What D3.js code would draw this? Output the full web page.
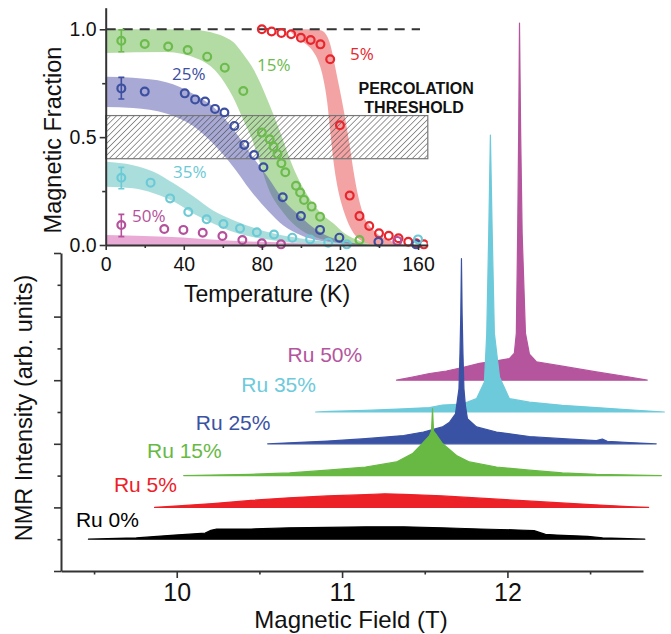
<!DOCTYPE html>
<html>
<head>
<meta charset="utf-8">
<script src="https://cdn.jsdelivr.net/npm/d3@7"></script>
<style>
body { margin: 0; background: #fff; }
text { font-family: "Liberation Sans", Arial, sans-serif; }
</style>
</head>
<body>
<svg id="chart" width="671" height="634"></svg>
<script>
// ---------- main plot: NMR spectra ----------
const fieldTicks = [10, 11, 12];
const fieldMinorTicks = [9.5, 10.5, 11.5, 12.5];
const intMajorTicks = [0, 2, 4, 6, 8, 10];
const intMinorTicks = [1, 3, 5, 7, 9];

const spectraLabels = ["Ru 0%", "Ru 5%", "Ru 15%", "Ru 25%", "Ru 35%", "Ru 50%"];
const spectraOffsets = [1, 2, 3, 4, 5, 6];

const fieldRu0 = [9.466, 9.755, 9.987, 10.172, 10.207, 10.241, 10.45, 10.68, 10.912, 11.143, 11.374, 11.605, 11.837, 12.068, 12.161, 12.23, 12.299, 12.485, 12.576, 12.831];
const intRu0   = [0, 0.04, 0.13, 0.19, 0.28, 0.32, 0.32, 0.36, 0.37, 0.39, 0.39, 0.36, 0.32, 0.29, 0.27, 0.15, 0.13, 0.09, 0.04, 0];

const fieldRu5 = [9.866, 9.987, 10.218, 10.45, 10.68, 10.912, 11.143, 11.258, 11.374, 11.605, 11.837, 12.068, 12.299, 12.53, 12.761, 12.854];
const intRu5   = [0, 0.04, 0.12, 0.22, 0.30, 0.36, 0.40, 0.43, 0.41, 0.36, 0.29, 0.22, 0.15, 0.08, 0.02, 0];

const fieldRu15 = [10.042, 10.447, 10.683, 10.912, 11.142, 11.329, 11.426, 11.486, 11.529, 11.541, 11.547, 11.553, 11.565, 11.607, 11.692, 11.770, 11.934, 12.133, 12.332, 12.538, 12.931];
const intRu15   = [0, 0.04, 0.085, 0.17, 0.27, 0.43, 0.69, 1.01, 1.26, 1.4, 2.11, 1.4, 1.32, 1.01, 0.63, 0.43, 0.27, 0.17, 0.085, 0.04, 0];

const fieldRu25 = [10.550, 10.912, 11.142, 11.372, 11.492, 11.607, 11.650, 11.686, 11.707, 11.713, 11.718, 11.722, 11.726, 11.731, 11.737, 11.746, 11.758, 11.813, 11.934, 12.133, 12.332, 12.538, 12.574, 12.604, 12.737, 12.900];
const intRu25   = [0, 0.085, 0.16, 0.26, 0.37, 0.53, 0.68, 0.94, 1.73, 2.83, 4.09, 5.82, 4.09, 2.83, 1.73, 1.19, 0.79, 0.53, 0.37, 0.23, 0.16, 0.10, 0.15, 0.08, 0.04, 0];

const fieldRu35 = [10.840, 10.924, 11.142, 11.372, 11.529, 11.607, 11.728, 11.813, 11.861, 11.875, 11.887, 11.897, 11.908, 11.921, 11.952, 12.012, 12.133, 12.332, 12.538, 12.737, 12.949];
const intRu35   = [0, 0.02, 0.05, 0.10, 0.14, 0.22, 0.25, 0.42, 0.94, 2.48, 5.63, 8.71, 5.63, 2.48, 1.10, 0.42, 0.31, 0.21, 0.14, 0.07, 0];

const fieldRu50 = [11.329, 11.426, 11.529, 11.631, 11.728, 11.831, 11.934, 12.012, 12.042, 12.054, 12.062, 12.068, 12.073, 12.080, 12.089, 12.109, 12.133, 12.175, 12.332, 12.538, 12.737, 12.846];
const intRu50   = [0, 0.10, 0.21, 0.29, 0.40, 0.53, 0.61, 0.68, 0.85, 1.48, 4.62, 7.77, 11.23, 7.77, 4.62, 1.48, 0.82, 0.58, 0.44, 0.26, 0.10, 0];

// ---------- inset: magnetic fraction vs temperature ----------
const tempTicks = [0, 40, 80, 120, 160];
const tempMinorTicks = [20, 60, 100, 140];
const fracTicks = [0, 0.5, 1.0];
const fracMinorTicks = [0.25, 0.75];

const insetLabels = ["5%", "15%", "25%", "35%", "50%"];

const tempRu5 = [80, 85, 90, 95, 100, 105, 110, 115, 120, 125, 130, 135, 140, 145, 150, 155, 159, 163];
const fracRu5 = [1.0, 0.99, 0.983, 0.977, 0.961, 0.95, 0.93, 0.861, 0.555, 0.229, 0.134, 0.088, 0.054, 0.043, 0.031, 0.015, 0.008, 0.003];

const tempRu15 = [8, 20, 32, 42, 52, 61, 70.5, 80, 84, 86, 88, 90, 92, 97.5, 99.6, 101.6, 105.5, 109.8, 130];
const fracRu15 = [0.947, 0.932, 0.92, 0.904, 0.873, 0.822, 0.714, 0.521, 0.49, 0.456, 0.422, 0.379, 0.337, 0.275, 0.243, 0.209, 0.178, 0.131, 0.023];

const tempRu25 = [8, 20, 40.5, 45.8, 50.9, 56, 60.8, 65.9, 71, 76, 80.8, 90.7, 100, 109.8, 119.7, 139.7, 159];
const fracRu25 = [0.726, 0.711, 0.703, 0.675, 0.665, 0.631, 0.614, 0.552, 0.464, 0.417, 0.36, 0.221, 0.134, 0.07, 0.034, 0.015, 0.003];

const tempRu35 = [8, 23, 33, 42.3, 51.7, 60.3, 68.8, 77.4, 86.2, 95.6, 104.7, 114, 123.5, 160];
const fracRu35 = [0.312, 0.289, 0.216, 0.153, 0.119, 0.097, 0.077, 0.059, 0.049, 0.034, 0.026, 0.011, 0.003, 0.026];

const tempRu50 = [8, 30, 39.8, 49.7, 59.8, 70, 80, 89.8, 149.4];
const fracRu50 = [0.093, 0.074, 0.07, 0.057, 0.042, 0.023, 0.008, 0.003, 0.019];

// error bars at the lowest temperature: [T, low, high]
const errRu15 = [8, 0.896, 0.997];
const errRu25 = [8, 0.677, 0.777];
const errRu35 = [8, 0.261, 0.36];
const errRu50 = [8, 0.039, 0.142];

// shaded bands: upper and lower edges as [T, fraction]
const bandRu5Hi = [[95, 1.0], [105, 1.0], [110, 0.995], [112.5, 0.98], [115, 0.93], [117, 0.85], [119, 0.76], [121, 0.67], [123, 0.57], [125, 0.46], [127, 0.34], [129.5, 0.22], [132, 0.14], [136, 0.08], [141, 0.04], [147, 0.015], [155, 0]];
const bandRu5Lo = [[95, 0.985], [98, 0.96], [102, 0.935], [106, 0.90], [109, 0.85], [111.5, 0.77], [113.5, 0.66], [115, 0.53], [116.8, 0.38], [118.5, 0.28], [120.5, 0.2], [123, 0.13], [126, 0.07], [130, 0.025], [135, 0.005], [140, 0]];
const bandRu15Hi = [[0, 1.0], [30, 1.0], [48, 0.995], [56, 0.98], [62, 0.96], [65.5, 0.94], [70, 0.89], [76, 0.81], [83, 0.67], [89.5, 0.52], [96, 0.36], [104.8, 0.21], [110, 0.15], [116.7, 0.10], [123, 0.05], [130, 0.02], [137, 0]];
const bandRu15Lo = [[0, 0.89], [31, 0.895], [48, 0.86], [57, 0.80], [65, 0.69], [71, 0.57], [75, 0.49], [79, 0.38], [83, 0.27], [91, 0.15], [100, 0.07], [108, 0.035], [117, 0.015], [126, 0.005], [135, 0]];
const bandRu25Hi = [[0, 0.78], [14, 0.775], [31, 0.755], [45, 0.70], [57, 0.625], [65.5, 0.535], [74, 0.425], [83, 0.315], [91, 0.21], [100, 0.13], [108, 0.07], [117, 0.03], [126, 0.01], [135, 0]];
const bandRu25Lo = [[0, 0.64], [14, 0.635], [31, 0.61], [45, 0.55], [55, 0.47], [65.5, 0.36], [74, 0.255], [83, 0.16], [91, 0.09], [100, 0.045], [117, 0.01], [126, 0]];
const bandRu35Hi = [[0, 0.386], [14, 0.37], [24.5, 0.34], [35, 0.285], [45, 0.225], [55, 0.16], [65.5, 0.115], [83, 0.06], [100, 0.03], [117, 0.01], [126, 0]];
const bandRu35Lo = [[0, 0.27], [14, 0.263], [24.5, 0.24], [35, 0.20], [45, 0.145], [55, 0.10], [65.5, 0.06], [83, 0.025], [100, 0.008], [117, 0]];
const bandRu50Hi = [[0, 0.046], [31, 0.038], [65, 0.02], [100, 0.008], [130, 0]];
const bandRu50Lo = [[0, 0], [130, 0]];

const percolation = [0.4, 0.6];

// ---------- colours / layout ----------
const specColors = ["#000000", "#ec2027", "#67b944", "#3a52a4", "#6dcadb", "#b5559e"];
const insetColors = ["#e8262d", "#6cbb4c", "#3c4fa0", "#6ccad6", "#b5519c"];
const bandColors = ["rgb(232,72,72)", "rgb(104,184,74)", "rgb(82,86,172)", "rgb(86,190,188)", "rgb(214,86,174)"];

const svg = d3.select("#chart");

const x = d3.scaleLinear().domain([9.3, 12.82]).range([61, 643]);
const y = d3.scaleLinear().domain([0, 10]).range([571, 253]);

const xIn = d3.scaleLinear().domain([0, 165]).range([105.7, 427.8]);
const yIn = d3.scaleLinear().domain([0, 1.1]).range([245, 7.7]);

function styleAxis(g, size) {
    g.select(".domain").attr("stroke", "#333").attr("stroke-width", 2);
    g.selectAll(".tick line").attr("stroke", "#333").attr("stroke-width", 1.6);
    g.selectAll(".tick text").attr("fill", "#111").style("font-size", size + "px")
        .style("font-family", '"Liberation Sans", Arial, sans-serif');
}

// ---- spectra (top ones first so the lower ones sit in front)
const spectra = [
    { field: fieldRu0, value: intRu0 },
    { field: fieldRu5, value: intRu5 },
    { field: fieldRu15, value: intRu15 },
    { field: fieldRu25, value: intRu25 },
    { field: fieldRu35, value: intRu35 },
    { field: fieldRu50, value: intRu50 }
];

const gSpec = svg.append("g");
for (let k = spectra.length - 1; k >= 0; k--) {
    const s = spectra[k];
    const off = spectraOffsets[k];
    const area = d3.area()
        .x((d, i) => x(s.field[i]))
        .y0(y(off))
        .y1((d, i) => y(off + s.value[i]));
    gSpec.append("path")
        .attr("d", area(s.field))
        .attr("fill", specColors[k])
        .attr("stroke", specColors[k])
        .attr("stroke-width", 1.2)
        .attr("stroke-linejoin", "round");
}

// labels of spectra (position in data coords: field, intensity)
const specLabelPos = [[9.39, 1.38], [9.62, 2.48], [9.82, 3.55], [10.115, 4.43], [10.39, 5.63], [10.67, 6.57]];
spectraLabels.forEach((t, k) => {
    svg.append("text")
        .attr("x", x(specLabelPos[k][0]))
        .attr("y", y(specLabelPos[k][1]))
        .attr("fill", specColors[k])
        .style("font-size", "21px")
        .text(t);
});

// ---- main axes
const gx = svg.append("g").attr("transform", "translate(0,571)")
    .call(d3.axisBottom(x).tickValues(fieldTicks).tickSize(7).tickSizeOuter(0).tickPadding(5).tickFormat(d3.format("d")));
styleAxis(gx, 25);
const gxm = svg.append("g").attr("transform", "translate(0,571)")
    .call(d3.axisBottom(x).tickValues(fieldMinorTicks).tickSize(3.5).tickFormat(""));
gxm.select(".domain").remove();
styleAxis(gxm, 25);

const gy = svg.append("g").attr("transform", "translate(61,0)")
    .call(d3.axisLeft(y).tickValues(intMajorTicks).tickSize(7).tickSizeOuter(0).tickFormat(""));
styleAxis(gy, 25);
const gym = svg.append("g").attr("transform", "translate(61,0)")
    .call(d3.axisLeft(y).tickValues(intMinorTicks).tickSize(3.5).tickFormat(""));
gym.select(".domain").remove();
styleAxis(gym, 25);

svg.append("text")
    .attr("x", 351).attr("y", 628)
    .attr("text-anchor", "middle")
    .style("font-size", "24px")
    .attr("fill", "#111")
    .text("Magnetic Field (T)");

svg.append("text")
    .attr("transform", "translate(32,408) rotate(-90)")
    .attr("text-anchor", "middle")
    .style("font-size", "23.5px")
    .attr("fill", "#111")
    .text("NMR Intensity (arb. units)");

// ---------- inset ----------
const gIn = svg.append("g");

const edge = d3.line().x(d => xIn(d[0])).y(d => yIn(d[1])).curve(d3.curveMonotoneX);
function bandPath(hi, lo) {
    const top = edge(hi);
    const bottom = edge(lo.slice().reverse());
    return top + "L" + bottom.slice(1) + "Z";
}
const bands = [
    [bandRu5Hi, bandRu5Lo], [bandRu15Hi, bandRu15Lo], [bandRu25Hi, bandRu25Lo],
    [bandRu35Hi, bandRu35Lo], [bandRu50Hi, bandRu50Lo]
];
bands.forEach((b, k) => {
    gIn.append("path")
        .attr("d", bandPath(b[0], b[1]))
        .attr("fill", bandColors[k])
        .attr("fill-opacity", 0.5);
});

// hatched percolation threshold
const defs = svg.append("defs");
defs.append("pattern")
    .attr("id", "hatch")
    .attr("patternUnits", "userSpaceOnUse")
    .attr("width", 4.2).attr("height", 4.2)
    .attr("patternTransform", "rotate(45)")
    .append("line")
    .attr("x1", 0).attr("y1", 0).attr("x2", 0).attr("y2", 4.2)
    .attr("stroke", "#444").attr("stroke-width", 1.1);

gIn.append("rect")
    .attr("x", xIn(0)).attr("y", yIn(percolation[1]))
    .attr("width", xIn(165) - xIn(0))
    .attr("height", yIn(percolation[0]) - yIn(percolation[1]))
    .attr("fill", "url(#hatch)")
    .attr("stroke", "#777").attr("stroke-width", 1.2);

gIn.append("line")
    .attr("x1", xIn(0)).attr("x2", xIn(161))
    .attr("y1", yIn(1)).attr("y2", yIn(1))
    .attr("stroke", "#333").attr("stroke-width", 2)
    .attr("stroke-dasharray", "10,7");

defs.append("clipPath").attr("id", "insetClip")
    .append("rect").attr("x", 0).attr("y", 0).attr("width", xIn(165)).attr("height", 260);

const insetSeries = [
    { t: tempRu5, f: fracRu5, err: null },
    { t: tempRu15, f: fracRu15, err: errRu15 },
    { t: tempRu25, f: fracRu25, err: errRu25 },
    { t: tempRu35, f: fracRu35, err: errRu35 },
    { t: tempRu50, f: fracRu50, err: errRu50 }
];

const gPts = gIn.append("g").attr("clip-path", "url(#insetClip)");
insetSeries.forEach((s, k) => {
    if (s.err) {
        const ex = xIn(s.err[0]);
        gPts.append("path")
            .attr("d", `M${ex},${yIn(s.err[1])}V${yIn(s.err[2])}M${ex - 3},${yIn(s.err[1])}h6M${ex - 3},${yIn(s.err[2])}h6`)
            .attr("stroke", insetColors[k]).attr("stroke-width", 1.6).attr("fill", "none");
    }
    gPts.selectAll(null)
        .data(s.t)
        .enter()
        .append("circle")
        .attr("cx", (d) => xIn(d))
        .attr("cy", (d, i) => yIn(s.f[i]))
        .attr("r", 3.9)
        .attr("fill", "none")
        .attr("stroke", insetColors[k])
        .attr("stroke-width", 2.2);
});

// series labels in the inset (position in data coords: T, fraction)
const insetLabelPos = [[125.2, 0.858], [77.5, 0.807], [34, 0.765], [34.5, 0.31], [13.5, 0.107]];
insetLabels.forEach((t, k) => {
    gIn.append("text")
        .attr("x", xIn(insetLabelPos[k][0]))
        .attr("y", yIn(insetLabelPos[k][1]))
        .attr("fill", insetColors[k])
        .style("font-family", '"Open Sans", sans-serif')
        .style("font-size", "17px")
        .text(t);
});

gIn.append("text")
    .attr("x", xIn(159)).attr("y", 94)
    .attr("text-anchor", "middle")
    .style("font-size", "16px").style("font-weight", "bold")
    .attr("fill", "#111")
    .text("PERCOLATION");
gIn.append("text")
    .attr("x", xIn(158)).attr("y", 112.5)
    .attr("text-anchor", "middle")
    .style("font-size", "16px").style("font-weight", "bold")
    .attr("fill", "#111")
    .text("THRESHOLD");

// inset axes
const gix = gIn.append("g").attr("transform", `translate(0,${yIn(0)})`)
    .call(d3.axisBottom(xIn).tickValues(tempTicks).tickSize(5).tickSizeOuter(0).tickPadding(6.7).tickFormat(d3.format("d")));
styleAxis(gix, 19.5);
const gixm = gIn.append("g").attr("transform", `translate(0,${yIn(0)})`)
    .call(d3.axisBottom(xIn).tickValues(tempMinorTicks).tickSize(3).tickFormat(""));
gixm.select(".domain").remove();
styleAxis(gixm, 19.5);

const giy = gIn.append("g").attr("transform", `translate(${xIn(0)},0)`)
    .call(d3.axisLeft(yIn).tickValues(fracTicks).tickSize(6).tickSizeOuter(0).tickPadding(3).tickFormat(d3.format(".1f")));
styleAxis(giy, 19.5);
const giym = gIn.append("g").attr("transform", `translate(${xIn(0)},0)`)
    .call(d3.axisLeft(yIn).tickValues(fracMinorTicks).tickSize(3.5).tickFormat(""));
giym.select(".domain").remove();
styleAxis(giym, 19.5);

gIn.append("text")
    .attr("x", 267).attr("y", 302)
    .attr("text-anchor", "middle")
    .style("font-size", "23px")
    .attr("fill", "#111")
    .text("Temperature (K)");

gIn.append("text")
    .attr("transform", "translate(61,140) rotate(-90)")
    .attr("text-anchor", "middle")
    .style("font-size", "23.5px")
    .attr("fill", "#111")
    .text("Magnetic Fraction");
</script>
</body>
</html>
